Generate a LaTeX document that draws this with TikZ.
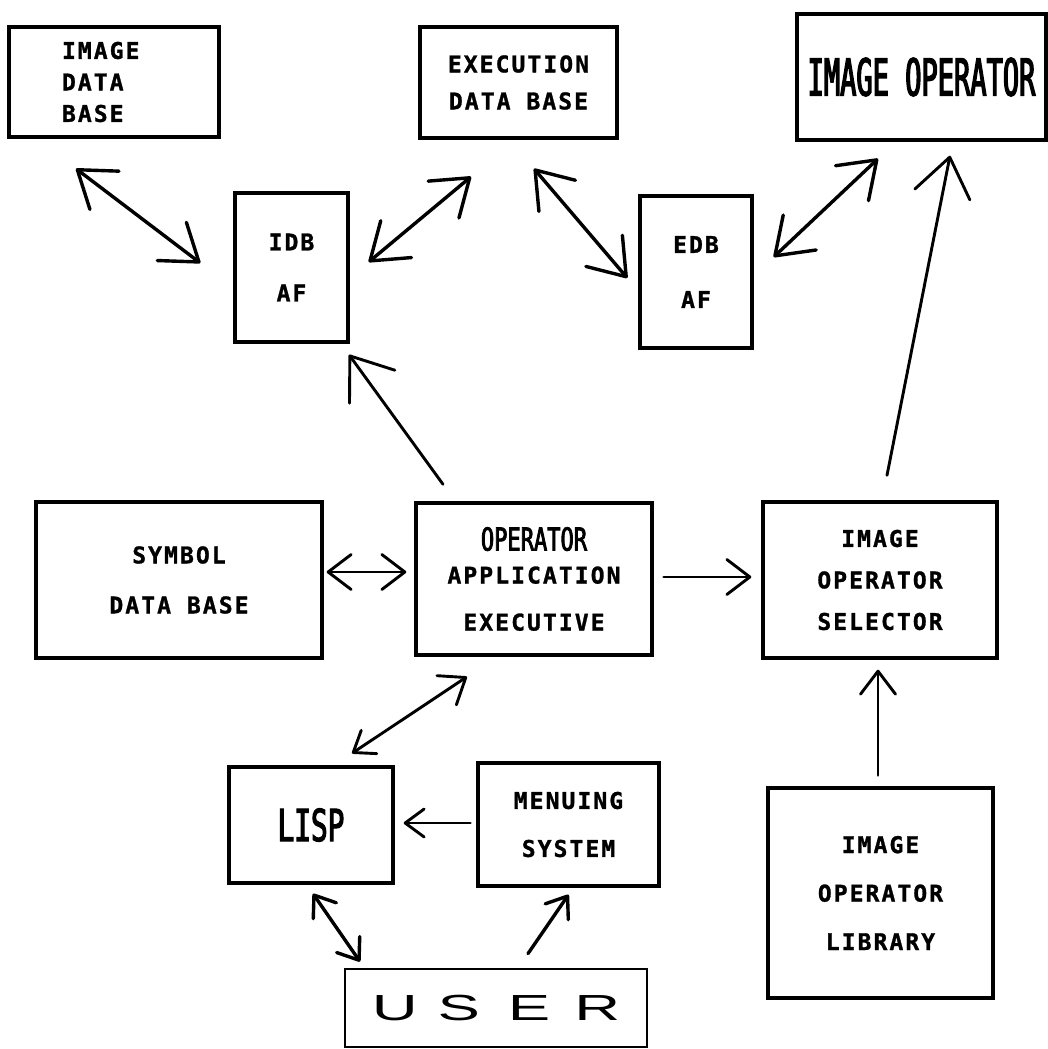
\documentclass[tikz,border=0pt]{standalone}
\usepackage{fontspec}
\usetikzlibrary{arrows.meta,calc}
\newfontfamily\plotfont{DejaVu Sans Mono}[LetterSpace=9,FakeBold=1.2]
\newfontfamily\condA{DejaVu Sans Mono}[FakeStretch=0.53,FakeBold=2.5]
\newfontfamily\condB{DejaVu Sans Mono}[FakeStretch=0.70,FakeBold=2.5]
\newfontfamily\condC{DejaVu Sans Mono}[FakeStretch=0.63,FakeBold=2.5]
\newfontfamily\userfont{Liberation Sans}[FakeStretch=1.75]
\begin{document}
\begin{tikzpicture}[x=1pt,y=-1pt,
  box/.style={draw, line width=3.4pt, rectangle, inner sep=0pt, align=center},
  txt/.style={font=\plotfont\bfseries\fontsize{23}{#1}\selectfont},
  con/.style={line width=3.4pt, line cap=round},
  HB/.tip={Straight Barb[length=34pt,width=48pt,round]},
  HL/.tip={Straight Barb[length=38pt,width=56pt,round]},
  HM/.tip={Straight Barb[length=23pt,width=35pt,round]},
  HS/.tip={Straight Barb[length=19pt,width=28pt,round]}]
\useasboundingbox (0,0) rectangle (1048,1049);

% boxes
\node[box, minimum width=210pt, minimum height=110pt, text width=104pt, align=left, txt=31.5] (imgdb) at (114,82) {IMAGE\\DATA\\BASE};
\node[box, minimum width=197pt, minimum height=111pt, txt=37] (execdb) at (518.5,82.5) {EXECUTION\\DATA BASE};
\node[box, minimum width=249pt, minimum height=126pt, font=\condA\fontsize{51}{51}\selectfont] (imgop) at (921.5,77) {IMAGE OPERATOR};
\node[box, minimum width=113pt, minimum height=149pt, txt=51] (idb) at (291.5,267.5) {IDB\\AF};
\node[box, minimum width=112pt, minimum height=152pt, txt=55] (edb) at (696,272) {EDB\\AF};
\node[box, minimum width=286pt, minimum height=156pt, txt=50] (sym) at (179,580) {SYMBOL\\DATA BASE};
\node[box, minimum width=236pt, minimum height=152pt, txt=40] (oae) at (534,579) {{\condB\mdseries\fontsize{31.5}{40}\selectfont OPERATOR}\\[-7pt]APPLICATION\\[7pt]EXECUTIVE};
\node[box, minimum width=234pt, minimum height=156pt, txt=41.5] (ios) at (880,580) {IMAGE\\OPERATOR\\SELECTOR};
\node[box, minimum width=164pt, minimum height=116pt, font=\condC\fontsize{44}{44}\selectfont] (lisp) at (311,825) {LISP};
\node[box, minimum width=181pt, minimum height=123pt, txt=48] (menu) at (568.5,824.5) {MENUING\\SYSTEM};
\node[box, minimum width=225pt, minimum height=210pt, txt=48.5] (lib) at (880.5,893) {IMAGE\\OPERATOR\\LIBRARY};
\node[box, line width=2.8pt, minimum width=302pt, minimum height=78pt, font=\userfont\fontsize{36.3}{40}\selectfont] (user) at (496,1008) {U\hspace{20pt}S\hspace{28pt}E\hspace{24pt}R};

% connectors
\draw[con, HB-HB] ($(imgdb.south)+(-38,30)$) -- ($(idb.west)+(-33,-4.5)$);
\draw[con, HB-HB] ($(idb.east)+(19,-5.5)$) -- ($(execdb.south)+(-47.5,37)$);
\draw[con, HB-HB] ($(execdb.south)+(15.5,29)$) -- ($(edb.west)+(-11,6)$);
\draw[con, HB-HB] ($(edb.east)+(20,-15)$) -- ($(imgop.south)+(-43.5,17)$);
\draw[con, line width=2.9pt, -HL] ($(oae.north)+(-91,-17)$) -- ($(idb.south)+(57.5,11)$);
\draw[con, line width=2.9pt, -HL] ($(ios.north)+(7,-25)$) -- ($(imgop.south)+(28.5,14)$);
\draw[con, line width=2.9pt, HM-HM] ($(sym.east)+(3,-8)$) -- ($(oae.west)+(-8,-7)$);
\draw[con, line width=2.9pt, -HM] ($(oae.east)+(10,-2)$) -- ($(ios.west)+(-10,-3)$);
\draw[con, line width=2.9pt, HS-HM] ($(lisp.north)+(41,-12)$) -- ($(oae.south)+(-67,20)$);
\draw[con, line width=2.9pt, -HS] ($(menu.west)+(-6,-1.5)$) -- ($(lisp.east)+(9,-2)$);
\draw[con, line width=2.9pt, -HM] ($(lib.north)+(-2.5,-11)$) -- ($(ios.south)+(-2,10)$);
\draw[con, HS-HS] ($(lisp.south)+(2,9)$) -- ($(user.north)+(-136,-6)$);
\draw[con, -HS] ($(user.north)+(32,-14)$) -- ($(menu.south)+(0,7)$);
\end{tikzpicture}
\end{document}
